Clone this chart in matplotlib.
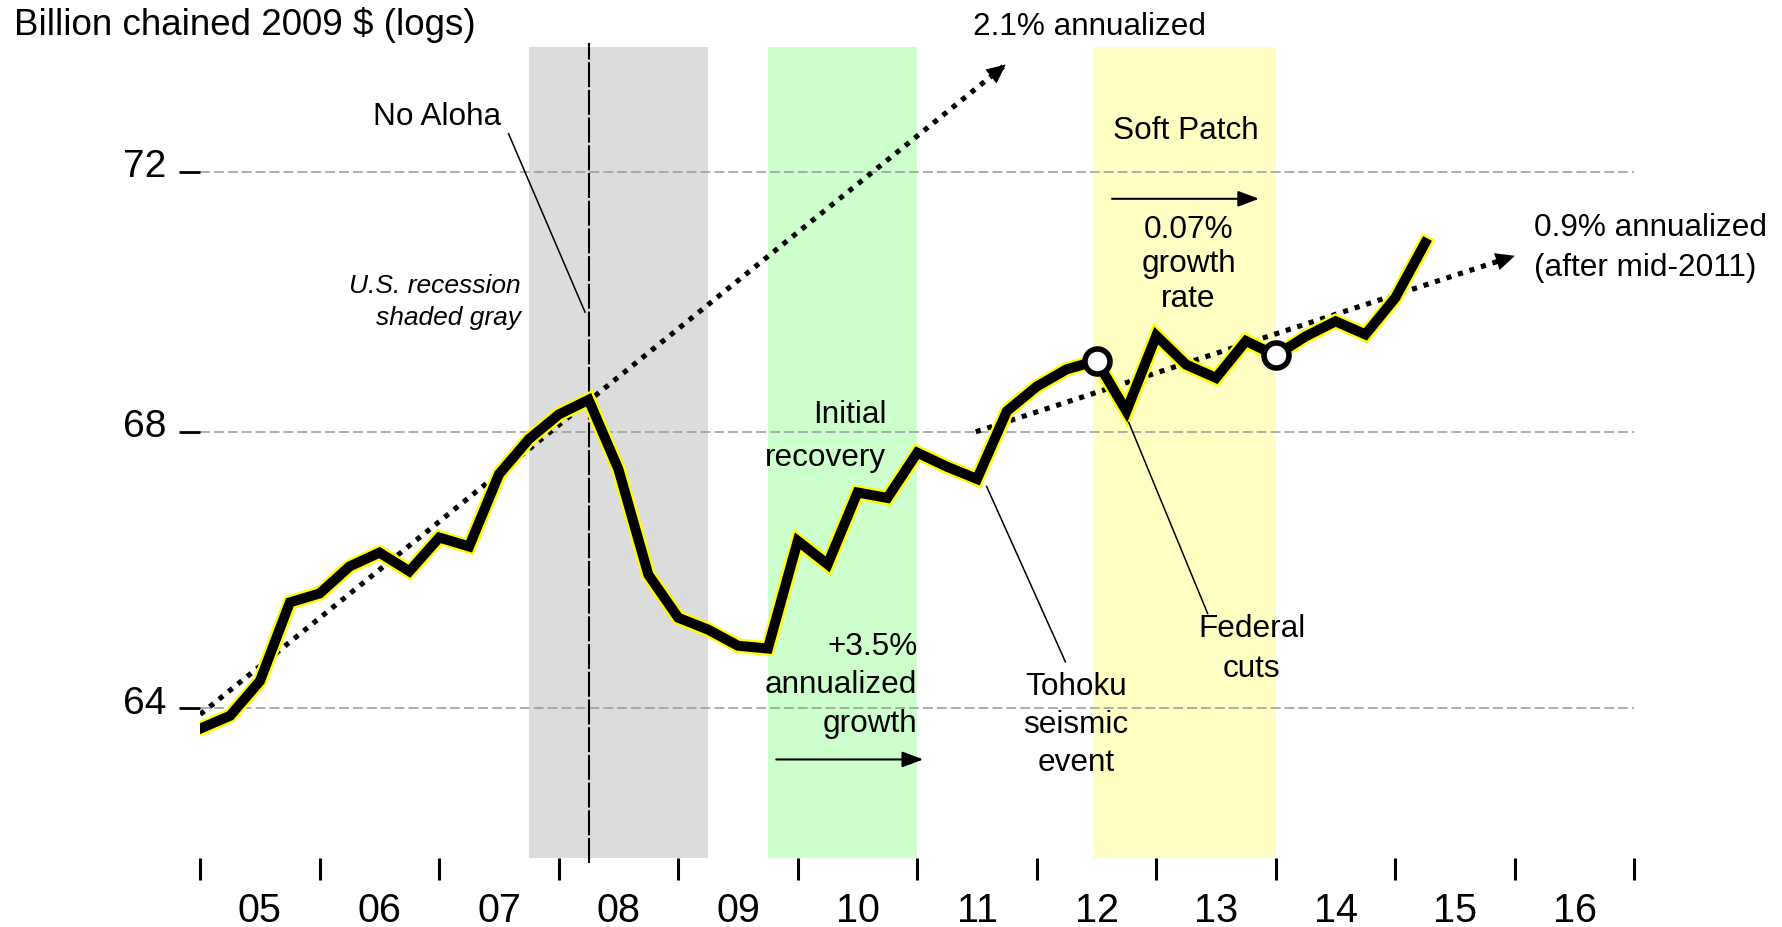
import numpy as np
import matplotlib.pyplot as plt
from matplotlib.ticker import NullLocator
from matplotlib.transforms import ScaledTranslation

plt.rcParams['font.family'] = ['Liberation Sans', 'DejaVu Sans']

# quarterly real output, billion chained 2009 $, 2005Q1 .. 2015Q2
quarters = 2005 + np.arange(42) * 0.25
gdp = np.array([63.71, 63.89, 64.38, 65.50, 65.63, 66.02, 66.22, 65.95, 66.44, 66.31,
                67.37, 67.89, 68.26, 68.48, 67.44, 65.90, 65.28, 65.11, 64.88, 64.84,
                66.39, 66.05, 67.10, 67.02, 67.69, 67.48, 67.30, 68.31, 68.68, 68.94,
                69.07, 68.31, 69.45, 69.01, 68.81, 69.37, 69.15, 69.44, 69.67, 69.47,
                70.03, 70.88])
soft_patch_pts = [30, 36]

recession = (2007.75, 2009.25)
recovery = (2009.75, 2011.0)
soft_patch = (2012.47, 2014.0)
no_aloha = 2008.25

trend1_x, trend1_y = [2005.0, 2011.74], [63.91, 73.71]
trend2_x, trend2_y = [2011.49, 2016.0], [68.0, 70.68]

year_ticks = np.arange(2005, 2018)
year_labels = ['05', '06', '07', '08', '09', '10', '11', '12', '13', '14', '15', '16']
y_ticks = [64, 68, 72]

fig = plt.figure(figsize=(17.83, 9.27), dpi=100)
ax = fig.add_axes([0.1123, 0.0748, 0.8043, 0.8748])
ax.set_yscale('log')
ax.set_ylim(61.93, 74.0)
ax.set_xlim(2005, 2017)
for s in ax.spines.values():
    s.set_visible(False)

# shaded periods
ax.axvspan(*recession, color='#dcdcdc', lw=0, zorder=0)
ax.axvspan(*recovery, color='#ccffcc', lw=0, zorder=0)
ax.axvspan(*soft_patch, color='#ffffc4', lw=0, zorder=0)
ax.axvline(no_aloha, ymin=-0.006, ymax=1.005, color='k', lw=1.5,
           ls=(0, (12, 1.3)), clip_on=False, zorder=2)

for y in y_ticks:
    ax.axhline(y, color='#999999', lw=1.1, ls=(0, (6.5, 2.6)), zorder=1)

# ticks
ax.set_xticks(year_ticks)
ax.set_xticklabels([])
ax.set_xticks(year_ticks[:-1] + 0.5, minor=True)
ax.set_xticklabels(year_labels, minor=True)
ax.tick_params(axis='x', which='major', length=15.5, width=2.2, direction='out')
ax.tick_params(axis='x', which='minor', length=0, pad=25, labelsize=28.5)
ax.set_yticks(y_ticks)
ax.set_yticklabels([str(v) for v in y_ticks])
ax.yaxis.set_minor_locator(NullLocator())
ax.tick_params(axis='y', length=14.8, width=2.0, pad=9.5, labelsize=28)
for lab in ax.get_yticklabels():
    lab.set_transform(lab.get_transform() + ScaledTranslation(0, 6 / 72, fig.dpi_scale_trans))

# trend lines
for tx, ty in [(trend1_x, trend1_y), (trend2_x, trend2_y)]:
    ax.plot(tx, ty, color='k', lw=3.7, ls=(0, (1, 1.35)), dash_capstyle='butt', zorder=3)
    ax.annotate('', xy=(tx[1], ty[1]), xytext=(tx[0], ty[0]),
                arrowprops=dict(arrowstyle='-|>,head_length=0.85,head_width=0.4',
                                mutation_scale=16, color='k', lw=0,
                                shrinkA=0, shrinkB=0), zorder=3)

# main series
ax.plot(quarters, gdp, color='#ffff00', lw=10.5, solid_joinstyle='miter', zorder=4)
ax.plot(quarters, gdp, color='k', lw=7.2, solid_joinstyle='miter', zorder=5)
ax.plot(quarters[soft_patch_pts], gdp[soft_patch_pts], 'o', ms=18, mfc='white',
        mec='k', mew=4, zorder=6)

# solid arrows
arrow = dict(arrowstyle='-|>,head_length=0.8,head_width=0.3', mutation_scale=16,
             color='k', lw=1.5, shrinkA=0, shrinkB=0)
ax.annotate('', xy=(2013.86, 71.57), xytext=(2012.63, 71.57), arrowprops=arrow)
ax.annotate('', xy=(2011.05, 63.28), xytext=(2009.82, 63.28), arrowprops=arrow)

# pointer lines
ax.plot([2007.58, 2008.22], [72.60, 69.81], color='k', lw=1.1, zorder=6)
ax.plot([2011.58, 2012.24], [67.19, 64.65], color='k', lw=1.1, zorder=6)
ax.plot([2012.77, 2013.43], [68.14, 65.34], color='k', lw=1.1, zorder=6)

fs = 22.7
ax.text(2006.98, 72.87, 'No Aloha', fontsize=fs, ha='center', va='center')
ax.text(2007.68, 69.96, 'U.S. recession\nshaded gray', fontsize=19, style='italic',
        ha='right', va='center', linespacing=1.43)
ax.text(2011.47, 74.32, '2.1% annualized', fontsize=fs, ha='left', va='center')
ax.text(2013.25, 72.65, 'Soft Patch', fontsize=fs, ha='center', va='center')
ax.text(2013.27, 70.55, '0.07%\ngrowth\nrate', fontsize=fs, ha='center', va='center',
        linespacing=1.2)
ax.text(2016.16, 70.80, '0.9% annualized\n(after mid-2011)', fontsize=fs, ha='left',
        va='center', linespacing=1.43)
ax.text(2010.74, 67.93, 'Initial\nrecovery', fontsize=fs, ha='right', va='center',
        multialignment='right', linespacing=1.59)
ax.text(2011.0, 64.32, '+3.5%\nannualized\ngrowth', fontsize=fs, ha='right',
        va='center', multialignment='right', linespacing=1.37)
ax.text(2012.33, 63.76, 'Tohoku\nseismic\nevent', fontsize=fs, ha='center',
        va='center', linespacing=1.33)
ax.text(2013.80, 64.83, 'Federal\ncuts', fontsize=fs, ha='center', va='center',
        linespacing=1.43)

fig.text(0.0076, 0.973, 'Billion chained 2009 $ (logs)', fontsize=26.5,
         ha='left', va='center', parse_math=False)

fig.savefig('out.png', dpi=100)
